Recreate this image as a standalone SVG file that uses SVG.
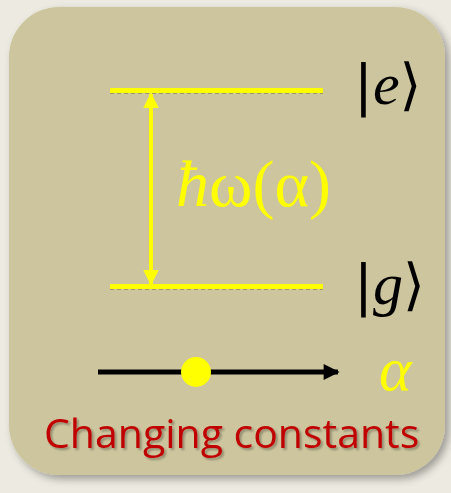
<svg xmlns="http://www.w3.org/2000/svg" width="451" height="493" viewBox="0 0 451 493">
<style>
.lvl{stroke:#FFFF00;stroke-width:5}
.lvlsh{stroke:#6E6A3A;stroke-width:1;stroke-dasharray:4 3}
.ket{font-family:"DejaVu Sans",sans-serif;font-size:56px;fill:#000}
.ital{font-family:"Liberation Serif",serif;font-style:italic}
.serif{font-family:"Liberation Serif",serif}
</style>
<defs>
<filter id="sh" x="-10%" y="-10%" width="120%" height="120%">
<feGaussianBlur in="SourceAlpha" stdDeviation="4"/>
<feOffset dx="4" dy="4"/>
<feComponentTransfer><feFuncA type="linear" slope="0.35"/></feComponentTransfer>
<feMerge><feMergeNode/><feMergeNode in="SourceGraphic"/></feMerge>
</filter>
<filter id="tsh" x="-5%" y="-20%" width="110%" height="140%">
<feGaussianBlur in="SourceAlpha" stdDeviation="1"/>
<feOffset dx="2" dy="2"/>
<feComponentTransfer><feFuncA type="linear" slope="0.3"/></feComponentTransfer>
<feMerge><feMergeNode/><feMergeNode in="SourceGraphic"/></feMerge>
</filter>
<marker id="ya" viewBox="0 0 10 10" refX="9" refY="5" markerWidth="4" markerHeight="4" orient="auto-start-reverse">
<path d="M0,0 L10,5 L0,10 z" fill="#FFFF00"/>
</marker>
<marker id="ka" viewBox="0 0 10 10" refX="9" refY="5" markerWidth="4" markerHeight="3.2" orient="auto">
<path d="M0,0 L10,5 L0,10 z" fill="#000"/>
</marker>
</defs>
<rect width="451" height="493" fill="#EDEBE1"/>
<rect id="panel" x="9" y="7" width="436" height="468" rx="50" fill="#CCC59E" filter="url(#sh)"/>
<g id="levels">
<g id="excited">
<line class="lvlsh" x1="110" y1="93" x2="323" y2="93"/>
<line class="lvl" x1="110" y1="90.5" x2="323" y2="90.5"/>
<text class="ket" x="354" y="104">|<tspan class="ital" font-size="60">e</tspan>⟩</text>
</g>
<g id="ground">
<line class="lvlsh" x1="110" y1="289" x2="323" y2="289"/>
<line class="lvl" x1="110" y1="286.5" x2="323" y2="286.5"/>
<text class="ket" x="354" y="304">|<tspan class="ital" font-size="60">g</tspan>⟩</text>
</g>
</g>
<g id="connectors">
<line x1="151" y1="94" x2="151" y2="284" stroke="#FFFF00" stroke-width="4" marker-start="url(#ya)" marker-end="url(#ya)"/>
<line x1="98" y1="372" x2="338" y2="372" stroke="#000" stroke-width="5" marker-end="url(#ka)"/>
</g>
<g id="energy">
<text class="serif" x="176" y="206" font-size="66" fill="#FFFF00"><tspan font-style="italic">ħ</tspan>ω(α)</text>
</g>
<g id="alpha-axis">
<circle cx="196" cy="372" r="15" fill="#FFFF00"/>
<text class="serif" font-style="italic" x="379" y="390" font-size="62" fill="#FFFF00">α</text>
</g>
<g id="caption">
<text x="44" y="448" font-family="'Open Sans','Liberation Sans',sans-serif" font-size="41" fill="#C00000" filter="url(#tsh)">Changing constants</text>
</g>
</svg>
